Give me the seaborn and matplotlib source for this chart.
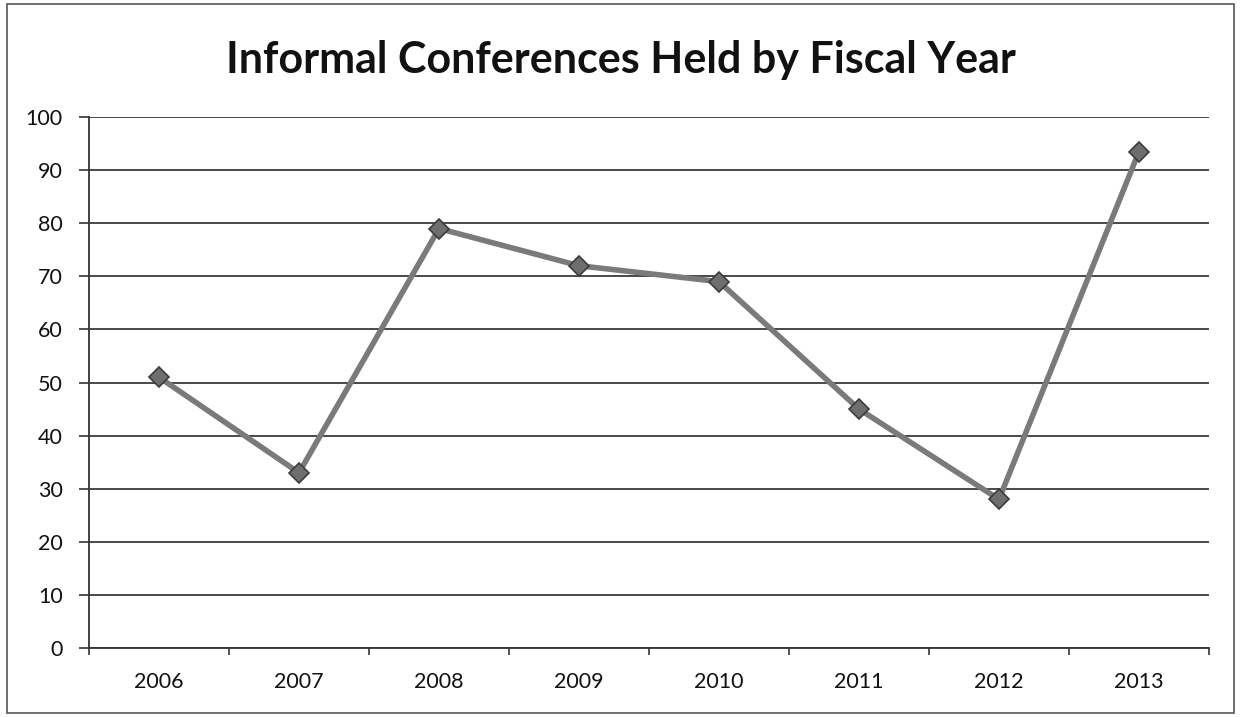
import matplotlib
matplotlib.use("Agg")
import matplotlib.pyplot as plt
import seaborn as sns
import pandas as pd
import numpy as np
from matplotlib.patches import Rectangle

years = ["2006", "2007", "2008", "2009", "2010", "2011", "2012", "2013"]
conferences = [51, 33, 79, 72, 69, 45, 28, 93.5]
y_ticks = [0, 10, 20, 30, 40, 50, 60, 70, 80, 90, 100]

df = pd.DataFrame({"year": years, "count": conferences})

sns.set_theme(style="white")
plt.rcParams["font.family"] = ["Lato", "DejaVu Sans"]

fig = plt.figure(figsize=(12.41, 7.17), dpi=100)
ax = fig.add_axes([0.0717, 0.0962, 0.9025, 0.7406])

sns.lineplot(data=df, x="year", y="count", ax=ax, sort=False,
             color="#7a7a7a", linewidth=4, marker="D", markersize=10,
             markerfacecolor="#6e6e6e", markeredgecolor="#3c3c3c",
             markeredgewidth=1.2, zorder=3)

ax.set_ylim(0, 100)
ax.set_xlim(-0.5, len(years) - 0.5)
ax.set_yticks(y_ticks)
ax.set_yticklabels([str(v) for v in y_ticks], fontsize=15.5, color="#111111")
ax.set_xticks(range(len(years)))
ax.set_xticklabels(years, fontsize=15.5, color="#111111")
ax.set_xlabel("")
ax.set_ylabel("")

# category boundary ticks along the x axis
ax.set_xticks(np.arange(-0.5, len(years), 1.0), minor=True)
ax.tick_params(axis="x", which="major", length=0, pad=17)
ax.tick_params(axis="x", which="minor", length=5, width=1.2, color="#333333",
               direction="out", bottom=True)
ax.tick_params(axis="y", which="major", length=7, width=1.2, color="#333333",
               direction="out", left=True, pad=12)

ax.grid(axis="y", color="#3a3a3a", linewidth=1.3, zorder=1)
ax.grid(axis="x", visible=False)
for side in ["top", "right"]:
    ax.spines[side].set_visible(False)
for side in ["left", "bottom"]:
    ax.spines[side].set_color("#333333")
    ax.spines[side].set_linewidth(1.3)

fig.text(0.5, 0.916, "Informal Conferences Held by Fiscal Year",
         ha="center", va="center", fontsize=31, fontweight="bold",
         color="#111111")

# chart area frame
fig.patches.append(Rectangle((0.0056, 0.006), 0.9885, 0.988,
                             transform=fig.transFigure, fill=False,
                             edgecolor="#555555", linewidth=1.2))

fig.savefig("out.png", dpi=100)
